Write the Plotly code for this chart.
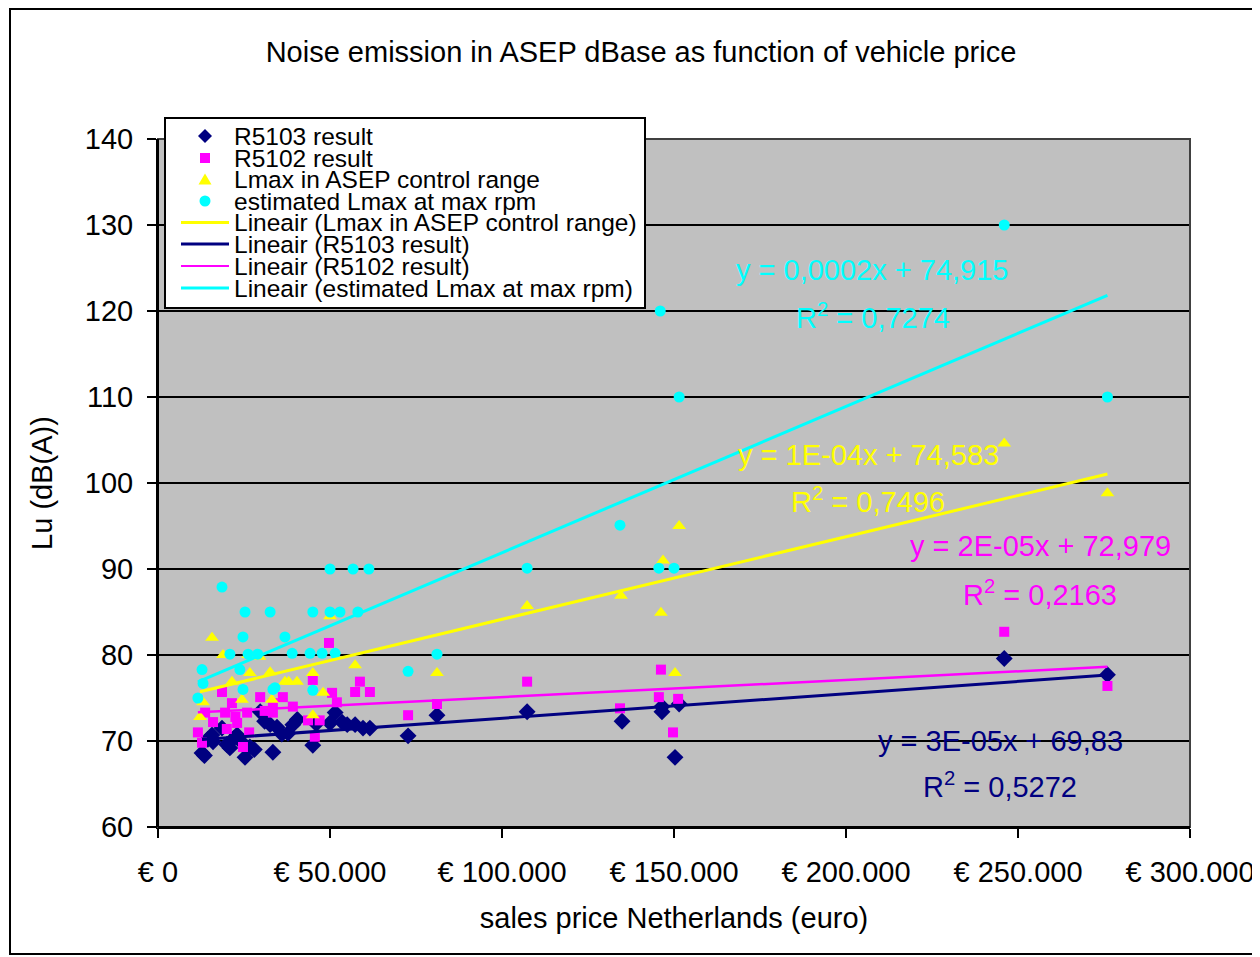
import plotly.graph_objects as go

# ---------------- data (price in euro, level in dB(A)) ----------------
r5103_price = [12800, 13500, 14500, 15700, 16000, 18600, 20000, 20900, 22000, 23000, 24000, 25300,
               26700, 28000, 29700, 31000, 32600, 33400, 34600, 36000, 37800, 39200, 40500, 45000,
               46000, 50000, 51500, 53500, 55000, 57300, 59600, 61600, 72700, 81100, 107300, 134900,
               146500, 146500, 151500, 150300, 246000, 276000]
r5103_db = [68.6, 68.3, 70.2, 70.7, 69.9, 71.5, 69.6, 69.2, 70.3, 70.7, 70.0, 68.1,
            69.3, 69.0, 73.4, 72.3, 71.9, 68.7, 71.6, 70.8, 70.9, 71.9, 72.5, 69.5,
            72.0, 72.1, 73.3, 72.2, 71.9, 71.9, 71.5, 71.5, 70.6, 73.0, 73.4, 72.3,
            73.4, 74.0, 74.3, 68.1, 79.6, 77.7]

r5102_price = [11600, 12800, 13700, 16000, 18600, 19500, 20000, 21500, 22500, 23000, 24700, 25900,
               26500, 29700, 31000, 33400, 33400, 36300, 39200, 43600, 45000, 45600, 47000, 49700,
               50600, 52000, 57300, 58700, 61600, 72700, 81100, 107300, 134300, 145600, 146200,
               149700, 151200, 246000, 276000]
r5102_db = [71.0, 69.8, 73.3, 72.2, 75.7, 73.3, 71.4, 74.4, 72.8, 72.1, 69.3, 73.3,
            71.0, 75.1, 73.5, 74.4, 73.3, 75.1, 74.0, 72.4, 77.1, 70.5, 72.4, 81.4,
            75.6, 74.5, 75.7, 76.9, 75.7, 73.0, 74.3, 76.9, 73.8, 75.1, 78.3,
            71.0, 74.9, 82.7, 76.4]

lmax_price = [12200, 13100, 15700, 18900, 21500, 24400, 26200, 26700, 29500, 32600, 33100, 36900,
              38000, 40400, 45000, 45000, 48000, 50000, 57300, 81100, 107300, 134600, 146200,
              146800, 150300, 151500, 246000, 276000]
lmax_db = [72.8, 74.5, 82.0, 80.0, 76.9, 74.8, 80.0, 77.9, 79.8, 78.0, 74.8, 76.9,
           76.9, 76.9, 77.9, 73.0, 75.6, 84.5, 78.8, 77.9, 85.7, 86.9, 84.9,
           91.0, 77.9, 95.0, 104.6, 98.8]

est_price = [11600, 12800, 13100, 18600, 20900, 23800, 24700, 24700, 25300, 26200, 29000, 32600,
             33400, 34000, 36900, 39000, 44200, 45000, 45000, 47700, 50000, 50000, 51500, 52900,
             56700, 58100, 61300, 72700, 81100, 107300, 134300, 145600, 146000, 150000, 151500,
             246000, 276000]
est_db = [75.0, 78.3, 76.7, 87.9, 80.1, 78.3, 82.1, 76.0, 85.0, 80.1, 80.1, 85.0,
          76.0, 76.2, 82.1, 80.2, 80.2, 85.0, 75.9, 80.2, 85.0, 90.0, 80.2, 85.0,
          90.0, 85.0, 90.0, 78.1, 80.1, 90.1, 95.1, 90.1, 120.0, 90.1, 110.0,
          130.0, 110.0]

# linear trend lines as drawn (slope per euro, intercept dB)
trend_names = ["Lineair (Lmax in ASEP control range)", "Lineair (R5103 result)",
               "Lineair (R5102 result)", "Lineair (estimated Lmax at max rpm)"]
trend_slope = [9.6e-5, 2.85e-5, 2.0e-5, 1.70e-4]
trend_intercept = [74.55, 69.8, 73.1, 74.9]

eq_text = ["y = 1E-04x + 74,583", "y = 3E-05x + 69,83", "y = 2E-05x + 72,979", "y = 0,0002x + 74,915"]
r2_text = ["R<sup>2</sup> = 0,7496", "R<sup>2</sup> = 0,5272", "R<sup>2</sup> = 0,2163", "R<sup>2</sup> = 0,7274"]
eq_pos = [(206400, 103.3), (244800, 70.0), (256400, 92.7), (207800, 124.8)]
r2_pos = [(206400, 98.0), (244800, 64.9), (256400, 87.2), (207800, 119.4)]

series_names = ["R5103 result", "R5102 result", "Lmax in ASEP control range", "estimated Lmax at max rpm"]

x_tickvals = [0, 50000, 100000, 150000, 200000, 250000, 300000]
x_ticktext = ["€ 0", "€ 50.000", "€ 100.000", "€ 150.000", "€ 200.000", "€ 250.000", "€ 300.000"]
y_tickvals = [60, 70, 80, 90, 100, 110, 120, 130, 140]

NAVY, MAGENTA, YELLOW, CYAN = "#000080", "#FF00FF", "#FFFF00", "#00FFFF"
FONT = "Liberation Sans, Arial, sans-serif"

# page geometry (the html body adds an 8 px margin)
OFF = 8
W, H = 1260 - OFF, 957 - OFF
PL, PR, PT, PB = 158, 1190, 139, 827  # plot area in page pixels


def px(xp):
    return (xp - PL) / (PR - PL)


def py(yp):
    return (PB - yp) / (PB - PT)


fig = go.Figure()

series = [
    (r5103_price, r5103_db, NAVY, "diamond", 13),
    (r5102_price, r5102_db, MAGENTA, "square", 10),
    (lmax_price, lmax_db, YELLOW, "triangle-up", 12),
    (est_price, est_db, CYAN, "circle", 11),
]
for i, (xs, ys, col, sym, sz) in enumerate(series):
    fig.add_trace(go.Scatter(x=xs, y=ys, mode="markers", name=series_names[i], showlegend=False,
                             marker=dict(color=col, symbol=sym, size=sz, line=dict(width=0))))

trend_src = [(lmax_price, YELLOW, 3), (r5103_price, NAVY, 3), (r5102_price, MAGENTA, 2.5), (est_price, CYAN, 3)]
for i, (xs, col, w) in enumerate(trend_src):
    x0, x1 = min(xs), max(xs)
    fig.add_trace(go.Scatter(x=[x0, x1],
                             y=[trend_slope[i] * x0 + trend_intercept[i], trend_slope[i] * x1 + trend_intercept[i]],
                             mode="lines", name=trend_names[i], showlegend=False,
                             line=dict(color=col, width=w)))

ann_cols = [YELLOW, NAVY, MAGENTA, CYAN]
for i in range(4):
    fig.add_annotation(x=eq_pos[i][0], y=eq_pos[i][1], text=eq_text[i], showarrow=False,
                       font=dict(color=ann_cols[i], size=29, family=FONT))
    fig.add_annotation(x=r2_pos[i][0], y=r2_pos[i][1], text=r2_text[i], showarrow=False,
                       font=dict(color=ann_cols[i], size=29, family=FONT))

fig.update_layout(
    width=W, height=H,
    margin=dict(l=PL - OFF, r=W - (PR - OFF), t=PT - OFF, b=H - (PB - OFF), autoexpand=False),
    paper_bgcolor="white", plot_bgcolor="#C0C0C0",
    font=dict(family=FONT, color="black"),
    title=dict(text="Noise emission in ASEP dBase as function of vehicle price",
               x=(641 - OFF) / W, xref="container", xanchor="center",
               y=1 - (52 - OFF) / H, yref="container", yanchor="middle",
               font=dict(size=29, family=FONT, color="black")),
    showlegend=False,
    xaxis=dict(range=[0, 300000], tickvals=x_tickvals, ticktext=x_ticktext, automargin=False,
               showgrid=False, zeroline=False, showline=True, linecolor="black", linewidth=2,
               ticks="outside", ticklen=9, tickwidth=2, tickcolor="black",
               tickfont=dict(size=29, family=FONT), ticklabelstandoff=9,
               title=dict(text="sales price Netherlands (euro)", font=dict(size=29, family=FONT), standoff=21)),
    yaxis=dict(range=[60, 140], tickvals=y_tickvals, automargin=False,
               showgrid=True, gridcolor="black", gridwidth=2, zeroline=False,
               showline=True, linecolor="black", linewidth=2,
               ticks="outside", ticklen=9, tickwidth=2, tickcolor="black",
               tickfont=dict(size=29, family=FONT), ticklabelstandoff=8,
               title=dict(text="Lu (dB(A))", font=dict(size=29, family=FONT), standoff=24)),
)

# plot-area border and outer chart frame
fig.add_shape(type="rect", xref="paper", yref="paper", x0=0, y0=0, x1=1, y1=1,
              line=dict(color="#404040", width=2), layer="above")
fig.add_shape(type="line", xref="paper", yref="paper", x0=0, y0=0, x1=1, y1=0,
              line=dict(color="black", width=2), layer="above")
fig.add_shape(type="line", xref="paper", yref="paper", x0=0, y0=0, x1=0, y1=1,
              line=dict(color="black", width=2), layer="above")
fig.add_shape(type="rect", xref="paper", yref="paper",
              x0=px(10), x1=px(1257), y0=py(954), y1=py(9),
              line=dict(color="black", width=2), layer="below")

# ---------------- legend box (drawn in page pixel positions) ----------------
fig.add_shape(type="rect", xref="paper", yref="paper", x0=px(165), x1=px(645), y0=py(308), y1=py(118),
              fillcolor="white", line=dict(color="black", width=2), layer="above")
rows = [136, 158, 179.5, 201, 222.5, 244, 266, 288]
sx = 205
# marker symbols
fig.add_shape(type="path", xref="paper", yref="paper",
              path=f"M {px(sx)},{py(rows[0]-7)} L {px(sx+7)},{py(rows[0])} L {px(sx)},{py(rows[0]+7)} L {px(sx-7)},{py(rows[0])} Z",
              fillcolor=NAVY, line=dict(width=0), layer="above")
fig.add_shape(type="rect", xref="paper", yref="paper", x0=px(sx - 5), x1=px(sx + 5), y0=py(rows[1] + 5), y1=py(rows[1] - 5),
              fillcolor=MAGENTA, line=dict(width=0), layer="above")
fig.add_shape(type="path", xref="paper", yref="paper",
              path=f"M {px(sx)},{py(rows[2]-6)} L {px(sx+6.5)},{py(rows[2]+5)} L {px(sx-6.5)},{py(rows[2]+5)} Z",
              fillcolor=YELLOW, line=dict(width=0), layer="above")
fig.add_shape(type="circle", xref="paper", yref="paper", x0=px(sx - 5.5), x1=px(sx + 5.5), y0=py(rows[3] + 5.5), y1=py(rows[3] - 5.5),
              fillcolor=CYAN, line=dict(width=0), layer="above")
# line symbols
for r, col, w in zip(rows[4:], [YELLOW, NAVY, MAGENTA, CYAN], [3, 3, 2, 3]):
    fig.add_shape(type="line", xref="paper", yref="paper", x0=px(181), x1=px(229), y0=py(r), y1=py(r),
                  line=dict(color=col, width=w), layer="above")
legend_texts = series_names + trend_names
for r, t in zip(rows, legend_texts):
    fig.add_annotation(xref="paper", yref="paper", x=px(232), y=py(r), text=t, showarrow=False,
                       xanchor="left", yanchor="middle", font=dict(size=24.5, family=FONT, color="black"))

fig.write_html("out.html")
